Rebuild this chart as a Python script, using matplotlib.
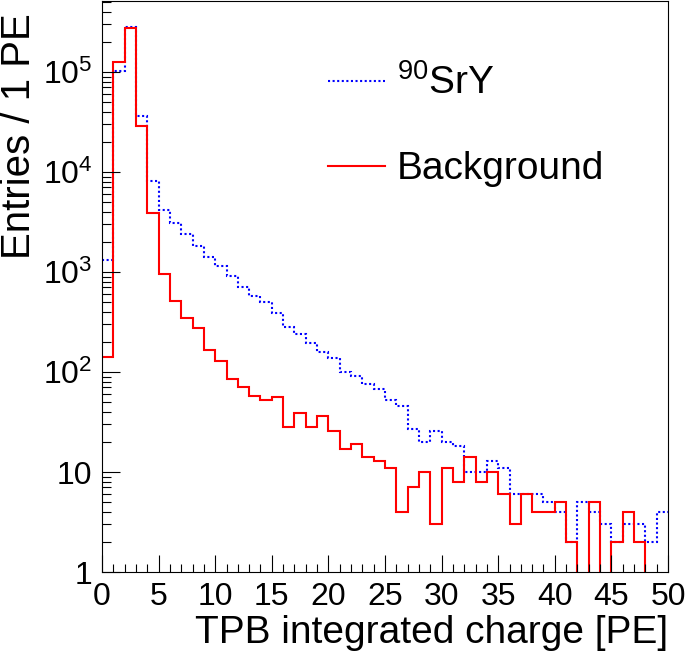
import numpy as np
import matplotlib
matplotlib.use("Agg")
import matplotlib.pyplot as plt
from matplotlib.ticker import LogLocator, NullFormatter, FixedLocator, FixedFormatter, MultipleLocator

plt.rcParams['font.family'] = ['Liberation Sans', 'DejaVu Sans']
plt.rcParams['mathtext.fontset'] = 'custom'
plt.rcParams['mathtext.rm'] = 'Liberation Sans'
plt.rcParams['mathtext.it'] = 'Liberation Sans:italic'
plt.rcParams['mathtext.bf'] = 'Liberation Sans:bold'

# bin edges, 1 PE per bin
edges = np.arange(0, 51, 1)

# 90SrY source spectrum (entries per bin)
sry = [1320, 1.02e5, 2.84e5, 3.6e4, 8200, 4170, 3110, 2380, 1820, 1400,
       1140, 920, 700, 575, 498, 393, 282, 240, 196, 157,
       139, 99, 92, 75, 68, 52, 46, 27, 20, 26,
       20, 18, 10, 10, 13, 11, 6, 6, 6, 5,
       4, 2, 5, 4, 3, 2, 3, 3, 2, 4]

# background spectrum (entries per bin)
bkg = [142, 1.27e5, 2.73e5, 2.9e4, 3920, 950, 517, 347, 275, 166,
       130, 85, 71, 57, 52, 56, 28, 39, 28, 36,
       26, 17, 19, 14, 13, 11, 4, 7, 10, 3,
       11, 8, 14, 8, 10, 6, 3, 6, 4, 4,
       5, 2, 0, 5, 0, 2, 4, 2, 0, 0]

ytick_vals = [1, 10, 100, 1000, 1e4, 1e5]
ytick_labels = ['1', '10', r'$\mathregular{10^{2}}$', r'$\mathregular{10^{3}}$',
                r'$\mathregular{10^{4}}$', r'$\mathregular{10^{5}}$']

fig = plt.figure(figsize=(6.85, 6.58), dpi=100)
ax = fig.add_axes([102 / 685, 1 - 572 / 658, 566 / 685, 571 / 658])

ax.stairs(sry, edges, baseline=None, color='#0000ff', lw=1.5,
          linestyle=(0, (1, 1.2)), label=r'$\mathregular{^{90}}$SrY')
ax.stairs(bkg, edges, baseline=None, color='#ff0000', lw=1.5,
          label='Background')

ax.set_yscale('log')
ax.set_xlim(0, 50)
ax.set_ylim(1, 10 ** 5.71)

ax.xaxis.set_major_locator(MultipleLocator(5))
ax.xaxis.set_minor_locator(MultipleLocator(1))
ax.yaxis.set_major_locator(FixedLocator(ytick_vals))
ax.yaxis.set_major_formatter(FixedFormatter(ytick_labels))
ax.yaxis.set_minor_locator(LogLocator(base=10, subs=np.arange(2, 10)))
ax.yaxis.set_minor_formatter(NullFormatter())

ax.tick_params(which='both', direction='in', top=False, right=False, labelsize=23)
ax.tick_params(axis='x', which='major', length=12.5, width=0.8, pad=7)
ax.tick_params(axis='x', which='minor', length=6, width=0.8)
ax.tick_params(axis='y', which='major', length=13, width=0.8, pad=7)
ax.tick_params(axis='y', which='minor', length=6.5, width=0.8)
for s in ax.spines.values():
    s.set_linewidth(0.8)

ax.set_xlabel('TPB integrated charge [PE]', fontsize=28, loc='right')
ax.xaxis.set_label_coords(1.0, -0.075)
ax.set_ylabel('Entries / 1 PE', fontsize=29, loc='top')
ax.yaxis.set_label_coords(-0.113, 0.979)

ax.legend(loc='upper left', bbox_to_anchor=(0.40, 0.889), frameon=False,
          fontsize=28, handlelength=1.46, handletextpad=0.3,
          labelspacing=1.26, borderpad=0, borderaxespad=0)

fig.savefig('out.png', dpi=100)
